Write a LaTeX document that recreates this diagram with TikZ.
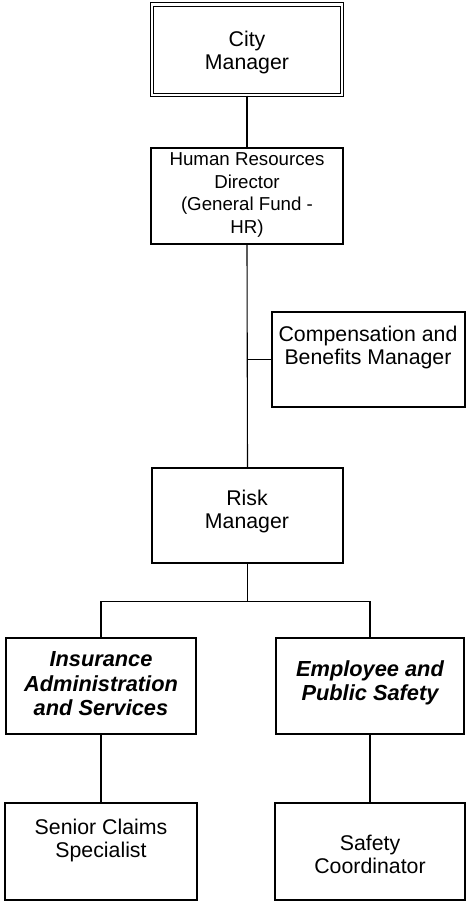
\documentclass[tikz,border=0pt]{standalone}
\usepackage{fontspec}
\setmainfont{Liberation Sans}
\begin{document}
\begin{tikzpicture}[x=1pt,y=-1pt,
  box/.style={draw=black,line width=1.1pt,rectangle,inner sep=0pt},
  thickbox/.style={draw=black,line width=2.6pt,rectangle,inner sep=0pt},
  dbox/.style={draw=black,line width=1.1pt,double,double distance=2.6pt,rectangle,inner sep=0pt},
  txt/.style={align=center,inner sep=0pt,font=\fontsize{21.3}{23}\selectfont},
  smalltxt/.style={align=center,inner sep=0pt,font=\fontsize{18.7}{22.5}\selectfont},
  btxt/.style={align=center,inner sep=0pt,font=\fontsize{21.8}{24.5}\selectfont\bfseries\itshape},
  conn/.style={draw=black,line width=1.1pt}]
\useasboundingbox (0,0) rectangle (469,903);
% boxes
\node[dbox,minimum width=190pt,minimum height=90.5pt] (cm) at (247,49.75) {};
\node[box,minimum width=192pt,minimum height=96pt] (hr) at (247,196) {};
\node[box,minimum width=193pt,minimum height=95pt] (comp) at (368.5,359.5) {};
\node[box,minimum width=191pt,minimum height=95pt] (risk) at (247.5,515.5) {};
\node[thickbox,minimum width=190pt,minimum height=96pt] (ins) at (101,686) {};
\node[thickbox,minimum width=188pt,minimum height=96pt] (emp) at (370,686) {};
\node[box,minimum width=192pt,minimum height=97pt] (sen) at (101,851.5) {};
\node[box,minimum width=190pt,minimum height=97pt] (saf) at (370,851.5) {};
% texts
\node[txt] (cmt) at (247,52) {City\\Manager};
\node[smalltxt] (hrt) at (247,195) {Human Resources\\Director\\(General Fund -\\HR)};
\node[txt] (compt) at (368,347) {Compensation and\\Benefits Manager};
\node[txt] (riskt) at (247,511) {Risk\\Manager};
\node[btxt] (inst) at (101,684) {Insurance\\Administration\\and Services};
\node[btxt] (empt) at (370,683) {Employee and\\Public Safety};
\node[txt] (sent) at (101,840) {Senior Claims\\Specialist};
\node[txt] (saft) at (370,854) {Safety\\Coordinator};
% connectors
\draw[conn] (cm.south) -- (hr.north);
\draw[conn] (hr.south) -- (risk.north);
\draw[conn] (comp.west) -- (comp.west -| hr.south);
\draw[conn] (risk.south) -- ++(0,38) coordinate (bus);
\draw[conn] (ins.north) |- (bus) -| (emp.north);
\draw[conn] (ins.south) -- (sen.north);
\draw[conn] (emp.south) -- (saf.north);
\end{tikzpicture}
\end{document}
